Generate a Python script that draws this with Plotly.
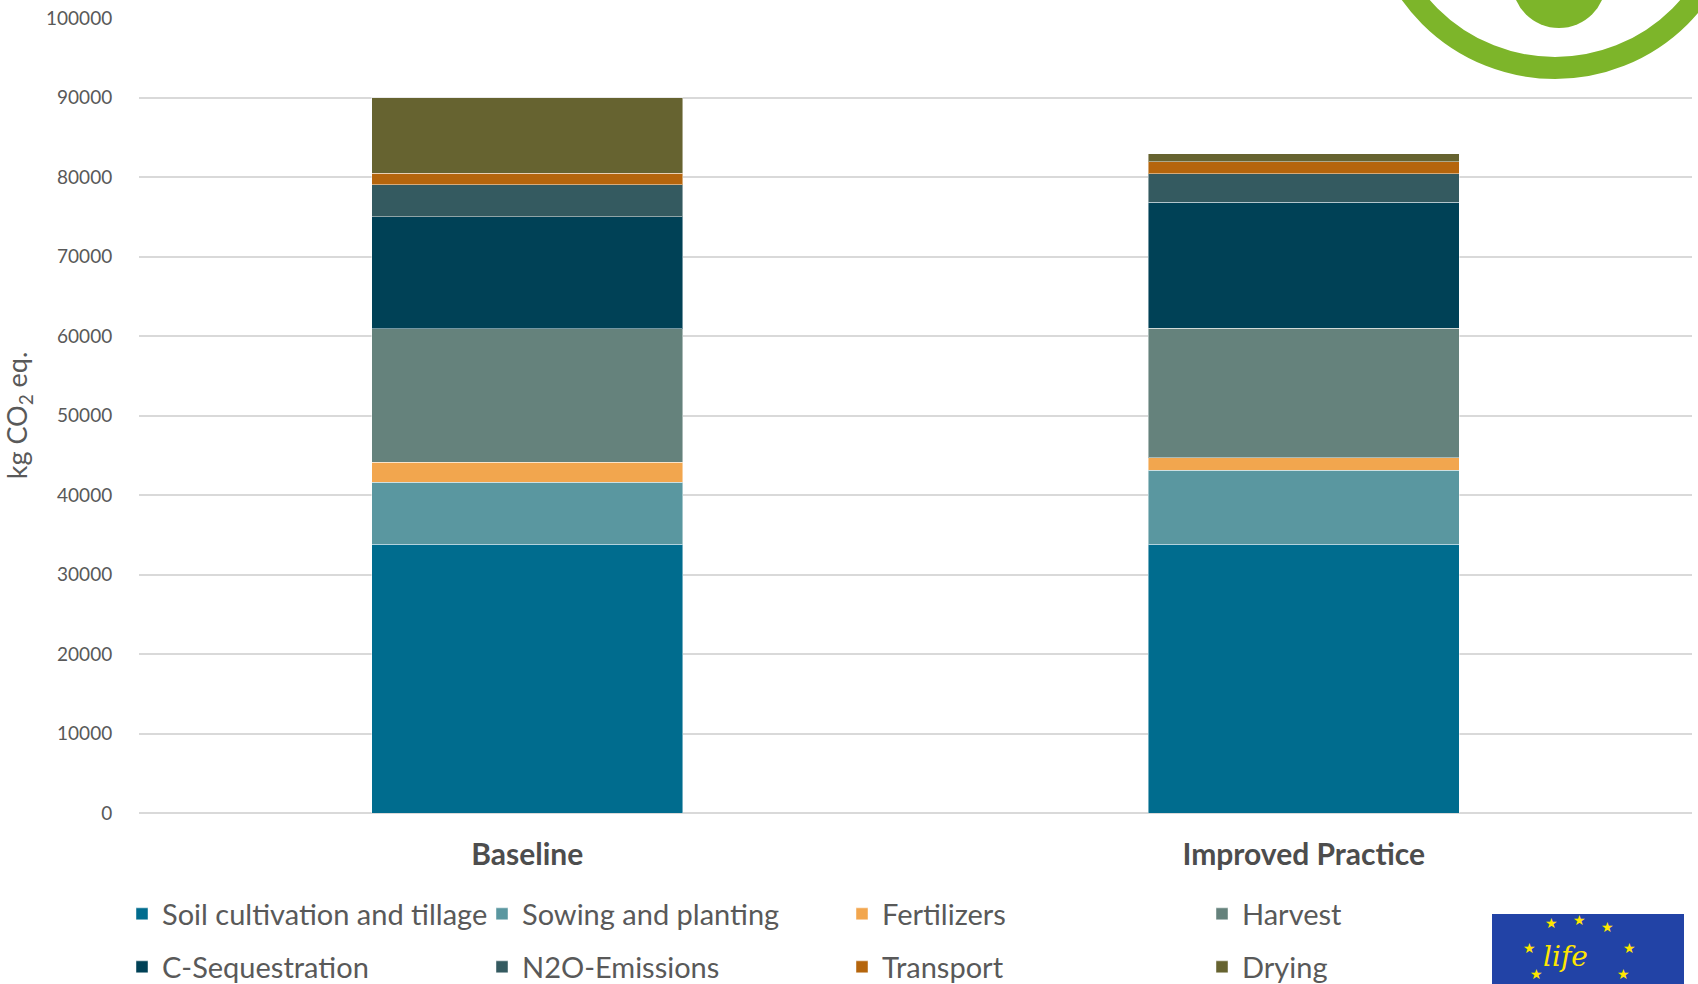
import plotly.graph_objects as go

categories = ["Baseline", "Improved Practice"]
series_names = ["Soil cultivation and tillage", "Sowing and planting", "Fertilizers", "Harvest",
                "C-Sequestration", "N2O-Emissions", "Transport", "Drying"]
soil = [33800, 33800]
sowing = [7800, 9300]
fertilizers = [2500, 1600]
harvest = [16800, 16300]
c_seq = [14100, 15800]
n2o = [4000, 3600]
transport = [1500, 1500]
drying = [9500, 1000]
y_ticks = [0, 10000, 20000, 30000, 40000, 50000, 60000, 70000, 80000, 90000, 100000]
y_tick_text = [str(v) for v in y_ticks]

values = [soil, sowing, fertilizers, harvest, c_seq, n2o, transport, drying]
colors = ["#006C8E", "#5A97A0", "#F2A64E", "#65827C", "#004156", "#345A60", "#B5650C", "#666330"]
legends = ["legend", "legend", "legend", "legend", "legend2", "legend2", "legend2", "legend2"]

FONT = "Lato"
GRAY = "#595959"

fig = go.Figure()
for name, vals, col, lg in zip(series_names, values, colors, legends):
    fig.add_trace(go.Bar(
        x=categories, y=vals, name=name, legend=lg,
        marker=dict(color=col, line=dict(color="rgba(255,255,255,0.45)", width=1)),
        width=0.4,
    ))

W, H = 1698, 984
L, R, T, B = 139, 6, 18, 171
pw, ph = W - L - R, H - T - B

def px(x):
    return (x - L) / pw

def py(y):
    return (H - B - y) / ph

shapes = [
    # green ring logo (top right)
    dict(type="circle", xref="paper", yref="paper", layer="below",
         x0=px(1378), x1=px(1732), y0=py(68), y1=py(-286),
         line=dict(color="#7DB52A", width=22), fillcolor="rgba(0,0,0,0)"),
    dict(type="circle", xref="paper", yref="paper", layer="below",
         x0=px(1512), x1=px(1606), y0=py(28), y1=py(-66),
         line=dict(width=0), fillcolor="#7DB52A"),
    # EU LIFE logo (bottom right)
    dict(type="rect", xref="paper", yref="paper", layer="above",
         x0=px(1492), x1=px(1684), y0=py(984), y1=py(914),
         line=dict(width=0), fillcolor="#2243A6"),
]

annotations = []
for sx, sy in [(1538, 958), (1560, 933), (1588, 930), (1616, 937), (1638, 958), (1545, 984), (1632, 984)]:
    annotations.append(dict(x=px(sx), y=py(sy), xref="paper", yref="paper", text="★",
                            showarrow=False, font=dict(color="#FFE600", size=14, family="DejaVu Sans")))
annotations.append(dict(x=px(1590), y=py(975), xref="paper", yref="paper", text="<i>life</i>",
                        showarrow=False, font=dict(color="#FFE600", size=28, family="DejaVu Serif")))

fig.update_layout(
    width=W, height=H,
    margin=dict(l=L, r=R, t=T, b=B, autoexpand=False),
    paper_bgcolor="white", plot_bgcolor="white",
    barmode="stack",
    font=dict(family=FONT, color=GRAY),
    shapes=shapes,
    annotations=annotations,
    xaxis=dict(
        showgrid=False, showline=False, zeroline=False, automargin=False,
        tickfont=dict(family=FONT, size=30, color="#4D4D4D", weight="bold"),
        ticks="outside", ticklen=15, tickcolor="rgba(0,0,0,0)",
    ),
    yaxis=dict(
        range=[0, 100000], tickvals=y_ticks, ticktext=y_tick_text, automargin=False,
        showgrid=True, gridcolor="#D9D9D9", gridwidth=1.5,
        zeroline=True, zerolinecolor="#D9D9D9", zerolinewidth=1.5,
        showline=False,
        tickfont=dict(family=FONT, size=19, color=GRAY),
        ticks="outside", ticklen=22, tickcolor="rgba(0,0,0,0)",
        title=dict(text="kg CO<sub>2</sub> eq.", font=dict(family=FONT, size=27, color=GRAY), standoff=18),
    ),
    legend=dict(
        orientation="h", xref="container", yref="container",
        x=122 / W, y=1 - 914 / H, xanchor="left", yanchor="middle",
        entrywidth=315, entrywidthmode="pixels", traceorder="normal",
        font=dict(family=FONT, size=29, color=GRAY), bgcolor="rgba(0,0,0,0)",
    ),
    legend2=dict(
        orientation="h", xref="container", yref="container",
        x=122 / W, y=1 - 967 / H, xanchor="left", yanchor="middle",
        entrywidth=315, entrywidthmode="pixels", traceorder="normal",
        font=dict(family=FONT, size=29, color=GRAY), bgcolor="rgba(0,0,0,0)",
    ),
)

fig.write_html("out.html")
